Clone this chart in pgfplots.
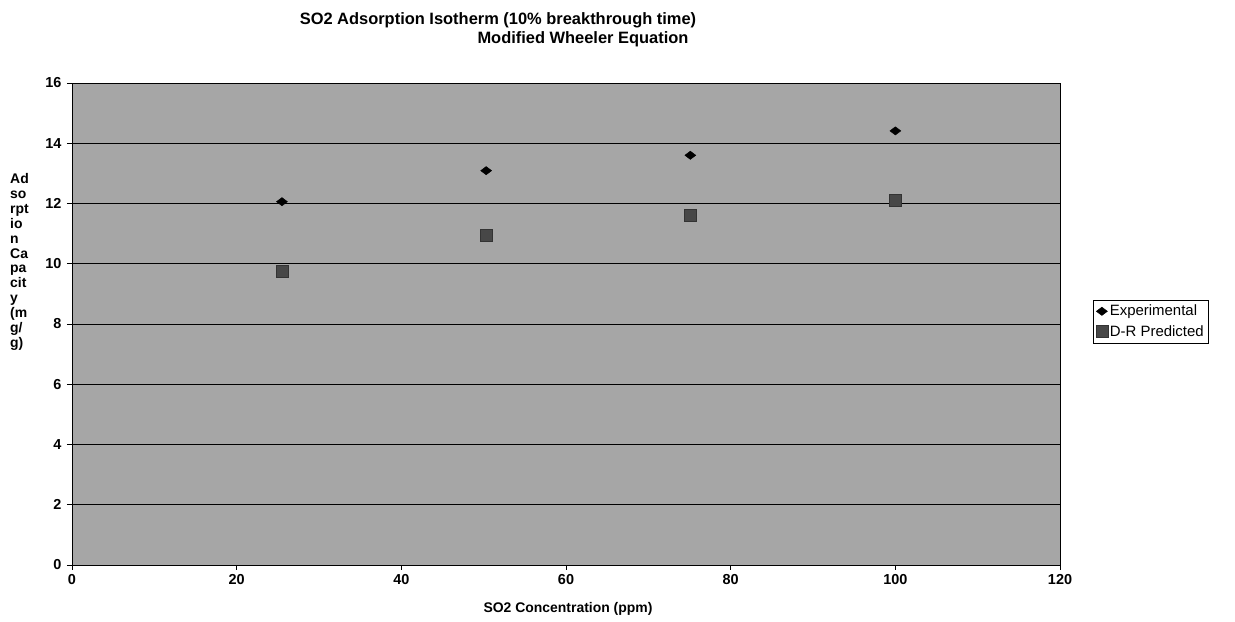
\documentclass[border=0pt]{standalone}
\usepackage{fontspec}
\setmainfont{Liberation Sans}
\usepackage{pgfplots}
\pgfplotsset{compat=1.18}
\begin{document}
\begin{tikzpicture}[x=1bp,y=1bp]
\path[use as bounding box] (-72,-57) rectangle (1163,565);
\begin{axis}[
  at={(0,0)}, anchor=south west,
  scale only axis, width=988bp, height=482bp,
  xmin=0, xmax=120, ymin=0, ymax=16,
  xtick={0,20,...,120}, ytick={0,2,...,16},
  axis background/.style={fill=black!35},
  ymajorgrids, major grid style={black, line width=0.6pt},
  axis line style={black, line width=0.6pt},
  tick align=outside, major tick length=5bp,
  xtick pos=bottom, ytick pos=left,
  tick style={black, line width=0.6pt},
  /pgf/number format/assume math mode=true,
  ticklabel style={font=\bfseries\fontsize{14.5}{16}\selectfont},
  yticklabel style={xshift=-2bp},
  xticklabel style={yshift=-1bp},
  legend style={at={(1.033,0.55)}, anchor=north west, draw=black, line width=0.5pt,
    font=\fontsize{15}{17}\selectfont, row sep=4bp, inner sep=3bp,
    cells={anchor=west}},
  legend cell align=left,
  clip=false,
]
\addplot[only marks, mark=diamond*, mark size=5.5bp, mark options={rotate=90, fill=black, draw=black}]
  coordinates {(25.5,12.06) (50.3,13.09) (75.1,13.6) (100,14.41)};
\addlegendentry{Experimental}
\addplot[only marks, mark=square*, mark size=6bp, mark options={fill=black!72, draw=black!80}]
  coordinates {(25.5,9.76) (50.3,10.95) (75.1,11.6) (100,12.12)};
\addlegendentry{D-R Predicted}
\end{axis}
\node[font=\bfseries\fontsize{16.5}{18}\selectfont] at (426,545) {SO2 Adsorption Isotherm (10\% breakthrough time)};
\node[font=\bfseries\fontsize{16.5}{18}\selectfont] at (511,526) {Modified Wheeler Equation};
\node[font=\bfseries\fontsize{14}{15}\selectfont] at (496,-44) {SO2 Concentration (ppm)};
\node[font=\bfseries\fontsize{14}{15}\selectfont, align=left, anchor=north west, inner sep=0pt] at (-62,392)
  {Ad\\so\\rpt\\io\\n\\Ca\\pa\\cit\\y\\(m\\g/\\g)};
\end{tikzpicture}
\end{document}
